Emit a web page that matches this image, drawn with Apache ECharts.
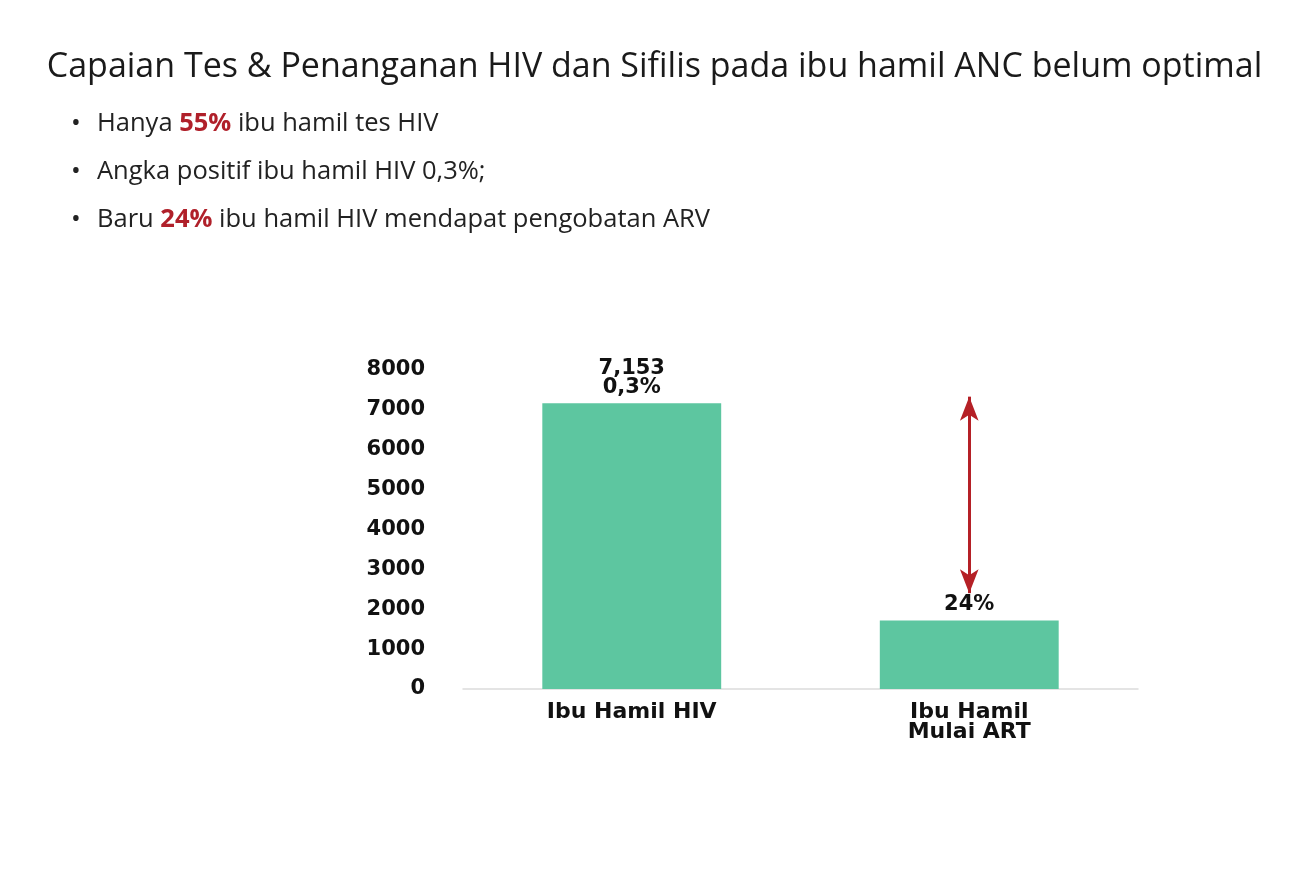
<!DOCTYPE html>
<html><head><meta charset="utf-8">
<script src="https://cdn.jsdelivr.net/npm/echarts@6/dist/echarts.min.js"></script>
<style>html,body{margin:0;padding:0;background:#fff}#c{width:1309px;height:875px}</style>
</head><body><div id="c"></div>
<script>
const titleText = 'Capaian Tes & Penanganan HIV dan Sifilis pada ibu hamil ANC belum optimal';
const bullets = [
  ['Hanya ', '55%', ' ibu hamil tes HIV'],
  ['Angka positif ibu hamil HIV 0,3%;', '', ''],
  ['Baru ', '24%', ' ibu hamil HIV mendapat pengobatan ARV']
];
const categories = ['Ibu Hamil HIV', 'Ibu Hamil\nMulai ART'];
const values = [7153, 1717];
const barLabels = ['7,153\n0,3%', '24%'];
const yMin = 0, yMax = 8000, yInterval = 1000;
const arrowRange = [7320, 2400];

const labelFont = 'DejaVu Sans';
const textFont = 'Open Sans';
const bulletTops = [106, 154, 202];

const titles = [{
  text: titleText, left: 'center', top: 45,
  textStyle: { fontFamily: textFont, fontSize: 34, fontWeight: 'normal', color: '#1a1a1a' }
}];
bullets.forEach((b, i) => {
  let s = '{d|•}{t|' + b[0] + '}';
  if (b[1]) s += '{r|' + b[1] + '}';
  if (b[2]) s += '{t|' + b[2] + '}';
  titles.push({
    text: s, left: 66, top: bulletTops[i],
    textStyle: {
      fontWeight: 'normal',
      rich: {
        d: { fontFamily: textFont, fontSize: 26, fontWeight: 'normal', color: '#222', width: 26 },
        t: { fontFamily: textFont, fontSize: 25.5, fontWeight: 'normal', color: '#222' },
        r: { fontFamily: textFont, fontSize: 25.5, fontWeight: 'bold', color: '#b0202a' }
      }
    }
  });
});

const chart = echarts.init(document.getElementById('c'));
chart.setOption({
  backgroundColor: '#fff',
  animation: false,
  title: titles,
  grid: { left: 463, right: 171, top: 369.5, bottom: 186, containLabel: false },
  xAxis: {
    type: 'category', data: categories,
    axisLine: { lineStyle: { color: '#dcdcdc', width: 1.5 } },
    axisTick: { show: false },
    axisLabel: { fontFamily: labelFont, fontWeight: 'bold', fontSize: 22, color: '#111', lineHeight: 20, margin: 13 }
  },
  yAxis: {
    type: 'value', min: yMin, max: yMax, interval: yInterval,
    axisLine: { show: false }, axisTick: { show: false }, splitLine: { show: false },
    axisLabel: { fontFamily: labelFont, fontWeight: 'bold', fontSize: 21, color: '#111', margin: 38,
      formatter: v => String(v) }
  },
  series: [{
    type: 'bar', data: values, barCategoryGap: '47%',
    itemStyle: { color: '#5dc6a0' },
    label: {
      show: true, position: 'top', distance: 6,
      formatter: p => barLabels[p.dataIndex],
      fontFamily: labelFont, fontWeight: 'bold', fontSize: 21, color: '#111', lineHeight: 19
    },
    markLine: {
      silent: true, symbol: ['arrow', 'arrow'], symbolSize: [14, 24],
      label: { show: false },
      lineStyle: { color: '#b52026', width: 3, type: 'solid' },
      data: [[ { coord: [categories[1], arrowRange[0]] }, { coord: [categories[1], arrowRange[1]] } ]]
    }
  }]
});
</script></body></html>
